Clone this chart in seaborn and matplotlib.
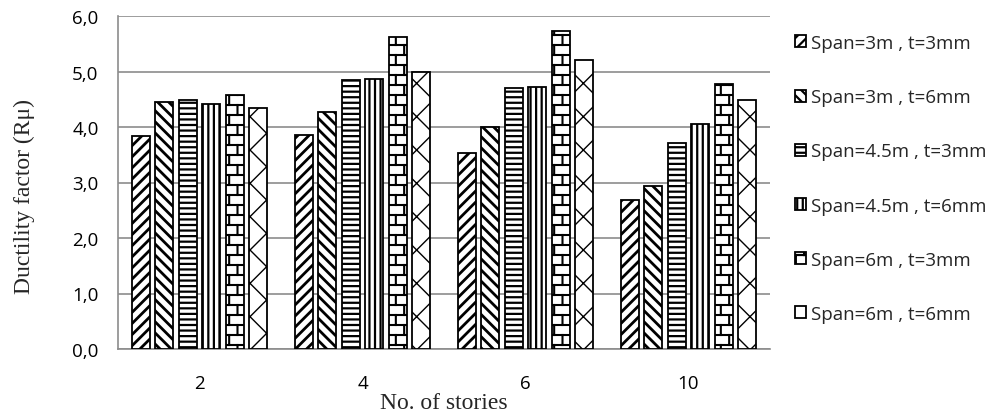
import warnings
import matplotlib
matplotlib.use("Agg")
import matplotlib.pyplot as plt
import matplotlib.hatch as mhatch
from matplotlib.path import Path
from matplotlib.ticker import FuncFormatter, FixedLocator
import numpy as np
import seaborn as sns
import pandas as pd

warnings.filterwarnings("ignore")

# Number of stories (x categories)
stories = ["2", "4", "6", "10"]

# Series: span / plate thickness combinations
series = [
    "Span=3m , t=3mm",
    "Span=3m , t=6mm",
    "Span=4.5m , t=3mm",
    "Span=4.5m , t=6mm",
    "Span=6m , t=3mm",
    "Span=6m , t=6mm",
]

# Ductility factor values per series, one value per story count
span3_t3 = [3.84, 3.86, 3.54, 2.69]
span3_t6 = [4.45, 4.27, 4.00, 2.93]
span45_t3 = [4.49, 4.85, 4.70, 3.72]
span45_t6 = [4.42, 4.87, 4.72, 4.05]
span6_t3 = [4.57, 5.63, 5.73, 4.77]
span6_t6 = [4.34, 4.99, 5.20, 4.49]

values = [span3_t3, span3_t6, span45_t3, span45_t6, span6_t3, span6_t6]
y_ticks = [0, 1, 2, 3, 4, 5, 6]


class BrickHatch(mhatch.HatchPatternBase):
    """Brick-wall hatch: horizontal courses with staggered vertical joints ('b')."""
    rows = 10
    cols = 6

    def __init__(self, hatch, density):
        self.on = "b" in hatch
        if self.on:
            self.num_vertices = 2 * self.rows + 2 * (self.rows + 1) * self.cols
        else:
            self.num_vertices = 0

    def set_vertices_and_codes(self, vertices, codes):
        r, c = self.rows, self.cols
        segs = []
        for i in range(r):
            y = (i + 0.5) / r
            segs.append(((0.0, y), (1.0, y)))
        for i in range(r):
            y0 = (i + 0.5) / r
            y1 = (i + 1.5) / r
            for k in range(c):
                x = (k + 0.25 + 0.5 * (i % 2)) / c
                if i < r - 1:
                    segs.append(((x, y0), (x, y1)))
                else:
                    segs.append(((x, y0), (x, 1.0)))
                    segs.append(((x, 0.0), (x, 0.5 / r)))
        for j, (a, b) in enumerate(segs):
            vertices[2 * j] = a
            vertices[2 * j + 1] = b
            codes[2 * j] = Path.MOVETO
            codes[2 * j + 1] = Path.LINETO


mhatch._hatch_types.append(BrickHatch)

hatches = ["///", "\\\\\\", "---", "|||", "b", "x"]
hatch_lw = [2.0, 2.0, 1.6, 1.6, 1.5, 1.0]

df = pd.DataFrame(
    [(s, lab, v) for lab, vals in zip(series, values) for s, v in zip(stories, vals)],
    columns=["stories", "series", "value"],
)

sns.set_theme(style="white")
plt.rcParams["hatch.color"] = "black"
plt.rcParams["hatch.linewidth"] = 1.6

fig = plt.figure(figsize=(9.93, 4.14), dpi=100)
ax = fig.add_axes([118 / 993, 1 - 350 / 414, 652 / 993, 333 / 414])

sns.barplot(
    data=df, x="stories", y="value", hue="series",
    order=stories, hue_order=series,
    palette=["white"] * len(series),
    width=0.865, gap=0.22, edgecolor="black", linewidth=1.3,
    ax=ax, legend=False, zorder=3,
)

for cont, h, lw in zip(ax.containers, hatches, hatch_lw):
    for bar in cont:
        bar.set_hatch(h)
        if hasattr(bar, "set_hatch_linewidth"):
            bar.set_hatch_linewidth(lw)
        bar.set_facecolor("white")
        bar.set_edgecolor("black")

grid_col = "#8c8c8c"
ax.set_ylim(0, 6)
ax.set_xlim(-0.5, len(stories) - 0.5)
ax.yaxis.set_major_locator(FixedLocator(y_ticks))
ax.yaxis.set_major_formatter(FuncFormatter(lambda v, p: f"{v:.1f}".replace(".", ",")))
ax.grid(axis="y", color=grid_col, linewidth=1.2, zorder=0)
ax.set_axisbelow(True)

for side in ["top", "right"]:
    ax.spines[side].set_visible(False)
for side in ["left", "bottom"]:
    ax.spines[side].set_color(grid_col)
    ax.spines[side].set_linewidth(1.2)

# category boundaries carry the x tick marks, labels sit at the centres
ax.set_xticks([i - 0.5 for i in range(len(stories) + 1)], minor=True)
ax.tick_params(axis="x", which="major", length=0, pad=18)
ax.tick_params(axis="x", which="minor", length=5, width=1.2, color=grid_col, direction="out")
ax.tick_params(axis="y", which="major", length=5, width=1.2, color=grid_col, direction="out", pad=9)
ax.tick_params(axis="both", labelsize=13.5, labelcolor="black")
for lab in ax.get_xticklabels() + ax.get_yticklabels():
    lab.set_fontfamily("Open Sans")

ax.set_xlabel("No. of stories", fontfamily="Liberation Serif", fontsize=17)
ax.set_ylabel("Ductility factor (Rμ)", fontfamily="Liberation Serif", fontsize=17)
ax.xaxis.set_label_coords(0.5, -0.129)
ax.yaxis.set_label_coords(-0.127, 0.46)

handles = [c[0] for c in ax.containers]
leg = fig.legend(
    handles, series,
    loc="upper left", bbox_to_anchor=(795 / 993, 1 - 35 / 414),
    frameon=False, handlelength=0.6, handleheight=0.6, handletextpad=0.25,
    labelspacing=1.93, borderaxespad=0, borderpad=0,
    prop={"family": "Open Sans", "size": 13.5},
)

fig.savefig("out.png", dpi=100)
